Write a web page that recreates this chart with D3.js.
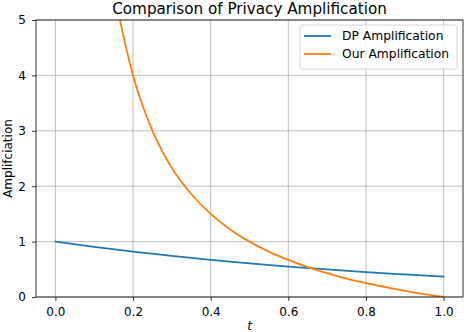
<!DOCTYPE html>
<html>
<head>
<meta charset="utf-8">
<script src="https://cdn.jsdelivr.net/npm/d3@7"></script>
<style>
  body { margin: 0; background: #fff; }
  text { font-family: "DejaVu Sans", sans-serif; fill: #000; }
</style>
</head>
<body>
<div id="chart"></div>
<script>
// values
const dpT = [0, 0.1, 0.2, 0.3, 0.4, 0.5, 0.6, 0.7, 0.8, 0.9, 1.0];
const dpVals = [1.0, 0.905, 0.819, 0.741, 0.670, 0.607, 0.549, 0.497, 0.449, 0.407, 0.368];

const ourT = [0.15, 0.16, 0.17, 0.18, 0.2, 0.22, 0.25, 0.28, 0.3, 0.35, 0.4, 0.45, 0.5, 0.55, 0.6, 0.65, 0.7, 0.75, 0.8, 0.85, 0.9, 0.95, 1.0];
const ourVals = [5.67, 5.25, 4.88, 4.56, 4.0, 3.55, 3.0, 2.57, 2.33, 1.86, 1.5, 1.22, 1.0, 0.82, 0.67, 0.54, 0.43, 0.33, 0.25, 0.18, 0.11, 0.05, 0.0];

const xTicks = [0.0, 0.2, 0.4, 0.6, 0.8, 1.0];
const yTicks = [0, 1, 2, 3, 4, 5];
const seriesNames = ["DP Amplification", "Our Amplification"];
const colors = ["#1f77b4", "#ff7f0e"];

const W = 464, H = 332;
const margin = {top: 20, right: 1, bottom: 35, left: 36};
const width = W - margin.left - margin.right;
const height = H - margin.top - margin.bottom;

const svg = d3.select("#chart").append("svg")
  .attr("width", W).attr("height", H);
const g = svg.append("g").attr("transform", `translate(${margin.left},${margin.top})`);

const x = d3.scaleLinear().domain([-0.05, 1.05]).range([0, width]);
const y = d3.scaleLinear().domain([0, 5]).range([height, 0]);

// grid
g.append("g").selectAll("line").data(xTicks).enter().append("line")
  .attr("x1", d => x(d)).attr("x2", d => x(d))
  .attr("y1", 0).attr("y2", height)
  .attr("stroke", "#b0b0b0").attr("stroke-width", 0.8);
g.append("g").selectAll("line").data(yTicks).enter().append("line")
  .attr("x1", 0).attr("x2", width)
  .attr("y1", d => y(d)).attr("y2", d => y(d))
  .attr("stroke", "#b0b0b0").attr("stroke-width", 0.8);

// clip
svg.append("defs").append("clipPath").attr("id", "clip")
  .append("rect").attr("width", width).attr("height", height);

const line = d3.line().x(d => x(d[0])).y(d => y(d[1])).curve(d3.curveMonotoneX);
const series = [d3.zip(dpT, dpVals), d3.zip(ourT, ourVals)];

g.append("g").attr("clip-path", "url(#clip)")
  .selectAll("path").data(series).enter().append("path")
  .attr("d", line)
  .attr("fill", "none")
  .attr("stroke", (d, i) => colors[i])
  .attr("stroke-width", 1.8)
  .attr("stroke-linecap", "square");

// axes
const xAxis = g.append("g").attr("transform", `translate(0,${height})`)
  .call(d3.axisBottom(x).tickValues(xTicks).tickFormat(d3.format(".1f")).tickSize(4).tickPadding(6).tickSizeOuter(0));
const yAxis = g.append("g")
  .call(d3.axisLeft(y).tickValues(yTicks).tickFormat(d3.format("d")).tickSize(4).tickPadding(6).tickSizeOuter(0));
[xAxis, yAxis].forEach(a => {
  a.select(".domain").remove();
  a.selectAll("line").attr("stroke", "#000").attr("stroke-width", 0.8);
  a.selectAll("text").attr("font-size", 12).attr("font-family", "DejaVu Sans");
});

// frame
g.append("rect").attr("width", width).attr("height", height)
  .attr("fill", "none").attr("stroke", "#000").attr("stroke-width", 0.8);

// labels
svg.append("text").attr("x", margin.left + width / 2).attr("y", 13.5)
  .attr("text-anchor", "middle").attr("font-size", 15.2)
  .text("Comparison of Privacy Amplification");
svg.append("text").attr("x", margin.left + width / 2).attr("y", 330)
  .attr("text-anchor", "middle").attr("font-size", 12).attr("font-style", "oblique")
  .text("t");
svg.append("text").attr("transform", `translate(12,${margin.top + height / 2}) rotate(-90)`)
  .attr("text-anchor", "middle").attr("font-size", 12)
  .text("Amplifciation");

// legend
const lg = svg.append("g").attr("transform", "translate(300,25)");
lg.append("rect").attr("width", 157).attr("height", 44).attr("rx", 2)
  .attr("fill", "#fff").attr("fill-opacity", 0.8)
  .attr("stroke", "#cccccc").attr("stroke-width", 0.8);
seriesNames.forEach((name, i) => {
  const yy = 11 + i * 18;
  lg.append("line").attr("x1", 4).attr("x2", 31).attr("y1", yy).attr("y2", yy)
    .attr("stroke", colors[i]).attr("stroke-width", 1.8);
  lg.append("text").attr("x", 42).attr("y", yy + 4.4).attr("font-size", 12.3).text(name);
});
</script>
</body>
</html>
